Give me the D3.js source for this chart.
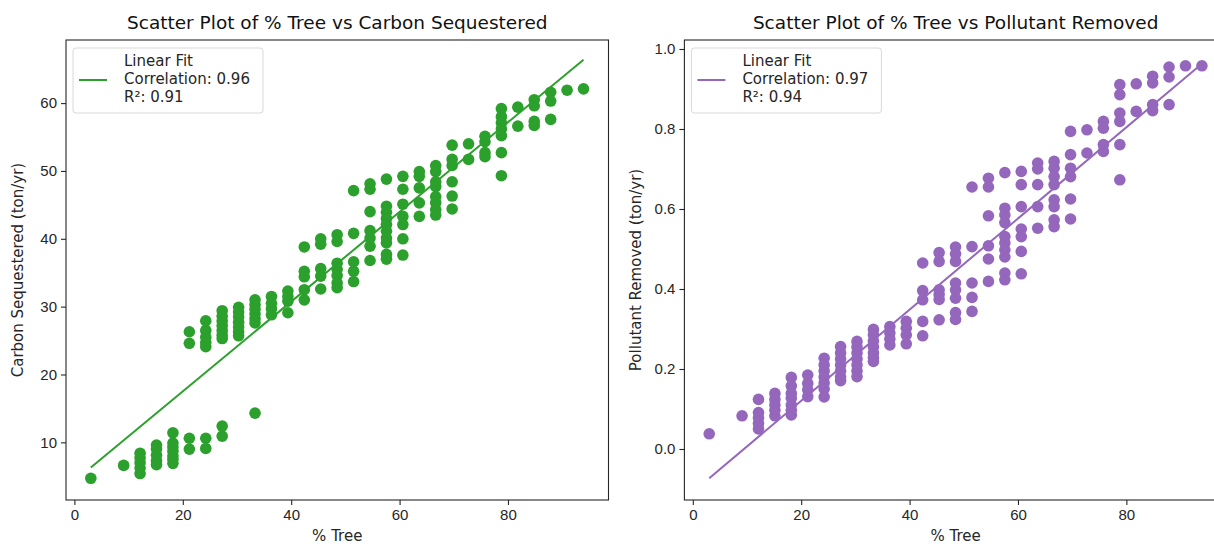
<!DOCTYPE html>
<html>
<head>
<meta charset="utf-8">
<script src="https://cdn.jsdelivr.net/npm/d3@7"></script>
<style>
  body { margin: 0; background: #fff; }
  svg { display: block; font-family: "DejaVu Sans", sans-serif; }
</style>
</head>
<body>
<svg id="chart" width="1214" height="546"></svg>
<script>
// % Tree levels (one column of points per level)
const treeLevels = [3.03, 9.09, 12.12, 15.15, 18.18, 21.21, 24.24, 27.27, 30.3, 33.33,
  36.36, 39.39, 42.42, 45.45, 48.48, 51.52, 54.55, 57.58, 60.61, 63.64,
  66.67, 69.7, 72.73, 75.76, 78.79, 81.82, 84.85, 87.88, 90.91, 93.94];

// Carbon sequestered (ton/yr) read per tree level
const carbonByLevel = [
  [4.7],
  [6.6],
  [8.4, 7.7, 7.0, 6.2, 5.4],
  [9.6, 9.0, 8.1, 7.3, 6.7],
  [11.4, 9.9, 9.3, 8.7, 8.0, 7.5, 6.9],
  [26.3, 24.6, 10.6, 9.0],
  [27.9, 26.5, 25.5, 24.7, 24.1, 10.6, 9.1],
  [29.4, 28.6, 27.9, 27.2, 26.5, 25.8, 25.3, 12.4, 10.9],
  [29.9, 29.2, 28.5, 27.7, 27.0, 26.3, 25.7],
  [31.0, 30.3, 29.6, 28.9, 28.2, 27.6, 14.3],
  [31.5, 30.5, 29.7, 28.8],
  [32.3, 31.5, 30.8, 29.1],
  [38.8, 35.2, 34.4, 32.5, 31.0],
  [40.0, 39.2, 35.6, 34.5, 32.6],
  [40.6, 39.6, 36.4, 35.5, 34.6, 33.5, 32.8],
  [47.1, 40.8, 36.6, 35.2, 33.7],
  [48.1, 47.3, 44.0, 41.2, 40.1, 38.9, 36.8],
  [48.8, 44.8, 43.9, 43.0, 42.1, 41.1, 40.1, 39.4, 37.7, 37.0],
  [49.2, 47.3, 45.1, 43.3, 42.1, 40.0, 37.6],
  [49.9, 49.2, 47.5, 45.3, 43.3],
  [50.8, 49.9, 48.4, 47.7, 46.2, 45.3, 44.3, 43.5],
  [53.8, 51.7, 50.8, 48.4, 46.3, 44.4],
  [54.0, 51.7],
  [55.1, 54.3, 52.7, 52.1],
  [59.2, 58.0, 57.1, 56.2, 55.2, 52.7, 49.3],
  [59.4, 56.6],
  [60.5, 59.6, 57.3, 56.7],
  [61.6, 60.3, 57.6],
  [61.9],
  [62.1]
];

// Pollutant removed (ton/yr) read per tree level
const pollutantByLevel = [
  [0.038],
  [0.083],
  [0.124, 0.091, 0.078, 0.064, 0.05],
  [0.139, 0.124, 0.11, 0.097, 0.083],
  [0.179, 0.158, 0.139, 0.127, 0.11, 0.097, 0.085],
  [0.185, 0.164, 0.148, 0.131],
  [0.227, 0.21, 0.195, 0.18, 0.165, 0.15, 0.13],
  [0.256, 0.24, 0.225, 0.21, 0.195, 0.18, 0.171],
  [0.269, 0.255, 0.24, 0.225, 0.21, 0.195, 0.181],
  [0.299, 0.285, 0.27, 0.255, 0.24, 0.228, 0.219],
  [0.306, 0.29, 0.275, 0.26],
  [0.319, 0.302, 0.285, 0.263],
  [0.465, 0.396, 0.373, 0.319, 0.283],
  [0.491, 0.469, 0.398, 0.386, 0.374, 0.323],
  [0.505, 0.488, 0.469, 0.415, 0.398, 0.377, 0.341, 0.324],
  [0.655, 0.506, 0.415, 0.379, 0.344],
  [0.677, 0.655, 0.583, 0.508, 0.475, 0.419],
  [0.691, 0.602, 0.585, 0.566, 0.531, 0.515, 0.498, 0.48, 0.44, 0.423],
  [0.694, 0.661, 0.606, 0.55, 0.531, 0.494, 0.438],
  [0.715, 0.7, 0.661, 0.606, 0.552],
  [0.719, 0.702, 0.681, 0.661, 0.623, 0.606, 0.573, 0.556],
  [0.794, 0.736, 0.702, 0.681, 0.625, 0.575],
  [0.798, 0.74],
  [0.819, 0.802, 0.761, 0.744],
  [0.911, 0.886, 0.84, 0.819, 0.761, 0.673],
  [0.913, 0.844],
  [0.932, 0.915, 0.861, 0.846],
  [0.955, 0.93, 0.861],
  [0.958],
  [0.958]
];

// Linear fit end points, as drawn in the picture
const fitX = [3.03, 93.94];
const fitCarbon = [6.3, 66.4];
const fitPollutant = [-0.073, 0.963];

const xTicks = [0, 20, 40, 60, 80];
const carbonTicks = [10, 20, 30, 40, 50, 60];
const pollutantTicks = [0.0, 0.2, 0.4, 0.6, 0.8, 1.0];

const panels = [
  {
    left: 66, title: 'Scatter Plot of % Tree vs Carbon Sequestered',
    yLabel: 'Carbon Sequestered (ton/yr)', color: '#2ca02c',
    values: carbonByLevel, fit: fitCarbon, yDomain: [1.5, 69.3],
    yTicks: carbonTicks, fmt: d3.format('d'),
    legend: ['Linear Fit', 'Correlation: 0.96', 'R²: 0.91']
  },
  {
    left: 684.4, title: 'Scatter Plot of % Tree vs Pollutant Removed',
    yLabel: 'Pollutant Removed (ton/yr)', color: '#9467bd',
    values: pollutantByLevel, fit: fitPollutant, yDomain: [-0.1275, 1.0225],
    yTicks: pollutantTicks, fmt: d3.format('.1f'),
    legend: ['Linear Fit', 'Correlation: 0.97', 'R²: 0.94']
  }
];

const svg = d3.select('#chart');
const plotW = 542.5, plotTop = 40, plotH = 460;
const textColor = '#262626';
const fontSize = '15px';

panels.forEach(p => {
  const x = d3.scaleLinear().domain([-1.55, 98.55]).range([p.left, p.left + plotW]);
  const y = d3.scaleLinear().domain(p.yDomain).range([plotTop + plotH, plotTop]);
  const g = svg.append('g');

  // points
  const pts = [];
  treeLevels.forEach((t, i) => p.values[i].forEach(v => pts.push([t, v])));
  g.append('g').selectAll('circle')
    .data(pts)
    .join('circle')
    .attr('cx', d => x(d[0]))
    .attr('cy', d => y(d[1]))
    .attr('r', 5.8)
    .attr('fill', p.color);

  // fit line
  const line = d3.line().x(d => x(d[0])).y(d => y(d[1]));
  g.append('path')
    .attr('d', line(fitX.map((t, i) => [t, p.fit[i]])))
    .attr('fill', 'none')
    .attr('stroke', p.color)
    .attr('stroke-width', 2);

  // axes
  const xAxis = g.append('g')
    .attr('transform', `translate(0,${plotTop + plotH})`)
    .call(d3.axisBottom(x).tickValues(xTicks).tickSize(5).tickPadding(4).tickFormat(d3.format('d')));
  const yAxis = g.append('g')
    .attr('transform', `translate(${p.left},0)`)
    .call(d3.axisLeft(y).tickValues(p.yTicks).tickSize(5).tickPadding(4).tickFormat(p.fmt));
  [xAxis, yAxis].forEach(a => {
    a.select('.domain').remove();
    a.selectAll('line').attr('stroke', textColor).attr('stroke-width', 1.1);
    a.selectAll('text').attr('fill', textColor).style('font-size', fontSize);
  });

  // frame
  g.append('rect')
    .attr('x', p.left).attr('y', plotTop)
    .attr('width', plotW).attr('height', plotH)
    .attr('fill', 'none')
    .attr('stroke', textColor)
    .attr('stroke-width', 1.1);

  // title & labels
  g.append('text')
    .attr('x', p.left + plotW / 2).attr('y', 29)
    .attr('text-anchor', 'middle')
    .attr('fill', '#111')
    .style('font-size', '18.5px')
    .text(p.title);
  g.append('text')
    .attr('x', p.left + plotW / 2).attr('y', 541)
    .attr('text-anchor', 'middle')
    .attr('fill', textColor)
    .style('font-size', fontSize)
    .text('% Tree');
  g.append('text')
    .attr('transform', `translate(${p.left - 43},${plotTop + plotH / 2}) rotate(-90)`)
    .attr('text-anchor', 'middle')
    .attr('fill', textColor)
    .style('font-size', fontSize)
    .text(p.yLabel);

  // legend
  const lg = g.append('g').attr('transform', `translate(${p.left + 7},${plotTop + 8})`);
  lg.append('rect')
    .attr('width', 190).attr('height', 65).attr('rx', 3)
    .attr('fill', '#fff').attr('fill-opacity', 0.8)
    .attr('stroke', '#d9d9d9');
  lg.append('line')
    .attr('x1', 6).attr('x2', 34).attr('y1', 32).attr('y2', 32)
    .attr('stroke', p.color).attr('stroke-width', 2);
  lg.append('text')
    .attr('fill', textColor)
    .style('font-size', fontSize)
    .selectAll('tspan')
    .data(p.legend)
    .join('tspan')
    .attr('x', 51)
    .attr('y', (d, i) => 18 + i * 18)
    .text(d => d);
});
</script>
</body>
</html>
